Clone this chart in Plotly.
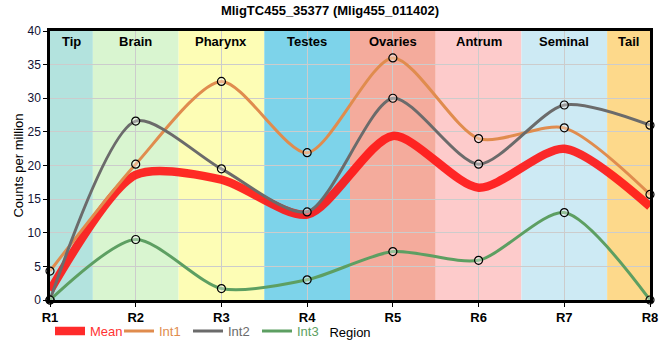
import plotly.graph_objects as go

regions = ["R1", "R2", "R3", "R4", "R5", "R6", "R7", "R8"]
xpos = [1, 2, 3, 4, 5, 6, 7, 8]
int1 = [4.3, 20.2, 32.5, 21.9, 36.0, 24.0, 25.6, 15.7]
int2 = [0.0, 26.6, 19.5, 13.1, 30.0, 20.2, 29.0, 26.0]
int3 = [0.0, 9.0, 1.7, 3.0, 7.2, 5.9, 13.0, 0.0]
mean = [1.4, 18.6, 17.9, 12.7, 24.4, 16.7, 22.5, 13.9]

band_names = ["Tip", "Brain", "Pharynx", "Testes", "Ovaries", "Antrum", "Seminal", "Tail"]
band_starts = [1, 1.5, 2.5, 3.5, 4.5, 5.5, 6.5, 7.5]
band_ends = [1.5, 2.5, 3.5, 4.5, 5.5, 6.5, 7.5, 8]
band_colors = ["#b3e3de", "#d9f5d0", "#fdfdb5", "#7dd3ea", "#f4ab9c", "#fdcbcb", "#cdeaf4", "#fdd98b"]

SMOOTH = 0.75
fig = go.Figure()

fig.add_trace(go.Scatter(
    x=xpos, y=mean, mode="lines",
    line=dict(color="rgba(255,20,20,0.9)", width=8.5, shape="spline", smoothing=SMOOTH),
    name="<span style='color:#ff3333'>Mean</span>", cliponaxis=False))

marker_style = dict(symbol="circle", size=8, color="rgba(255,255,255,0.35)", line=dict(color="black", width=1.2))
series = [(int1, "#e08c4e", "Int1"), (int2, "#6b6b6b", "Int2"), (int3, "#5d9f62", "Int3")]
for vals, col, nm in series:
    fig.add_trace(go.Scatter(
        x=xpos, y=vals, mode="lines+markers",
        line=dict(color=col, width=3, shape="spline", smoothing=SMOOTH),
        marker=marker_style, showlegend=False, legendgroup=nm, cliponaxis=False))
    # legend entry (line only)
    fig.add_trace(go.Scatter(
        x=[None], y=[None], mode="lines", line=dict(color=col, width=3),
        name=f"<span style='color:{col}'>{nm}</span>", legendgroup=nm))

shapes = []
annotations = []
for nm, s, e, c in zip(band_names, band_starts, band_ends, band_colors):
    shapes.append(dict(type="rect", xref="x", yref="paper", x0=s, x1=e, y0=0, y1=1,
                       fillcolor=c, line=dict(width=0), layer="below"))
    annotations.append(dict(text=f"<b>{nm}</b>", xref="x", yref="paper", x=(s + e) / 2, y=1.0,
                            yanchor="top", yshift=-1, showarrow=False,
                            font=dict(family="Liberation Sans, Arial", size=13, color="black")))

fig.update_layout(
    width=660, height=360,
    margin=dict(l=50, r=10, t=31, b=60),
    plot_bgcolor="white", paper_bgcolor="white",
    title=dict(text="<b>MligTC455_35377 (Mlig455_011402)</b>", x=0.5, xanchor="center", y=0.985, yanchor="top",
               font=dict(family="Liberation Sans, Arial", size=13, color="black")),
    font=dict(family="Liberation Sans, Arial", size=12, color="black"),
    shapes=shapes, annotations=annotations,
    showlegend=True,
    legend=dict(orientation="h", x=0.0, xanchor="left", y=-0.06, yanchor="top",
                font=dict(size=13), itemwidth=30, entrywidth=24, entrywidthmode="pixels",
                bgcolor="rgba(0,0,0,0)", tracegroupgap=0),
)

fig.update_xaxes(
    range=[1, 8], tickvals=xpos, ticktext=[f"<b>{r}</b>" for r in regions],
    showgrid=True, gridcolor="#cccccc", gridwidth=1,
    showline=True, linecolor="black", linewidth=2.5, mirror=True,
    ticks="outside", ticklen=4, tickcolor="black",
    tickfont=dict(size=13, color="black"),
    title=dict(text="Region", standoff=4, font=dict(size=13)),
    zeroline=False, layer="above traces", automargin=False)
fig.update_yaxes(
    range=[0, 40], tickvals=[0, 5, 10, 15, 20, 25, 30, 35, 40],
    showgrid=True, gridcolor="#cccccc", gridwidth=1,
    showline=True, linecolor="black", linewidth=2.5, mirror=True,
    ticks="outside", ticklen=4, tickcolor="black",
    tickfont=dict(size=12, color="#111133"),
    title=dict(text="Counts per million", standoff=1, font=dict(size=13)),
    zeroline=False, layer="above traces", automargin=False)

fig.write_html("out.html", config={"displayModeBar": False},
               post_script="document.body.style.margin='0';document.body.style.padding='0';")
